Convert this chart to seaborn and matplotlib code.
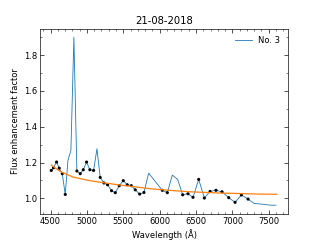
import matplotlib
matplotlib.use("Agg")
import matplotlib.pyplot as plt
from matplotlib.ticker import MultipleLocator
import seaborn as sns

# spectrum No. 3 (blue line)
wavelength = [4510, 4540, 4583, 4619, 4661, 4702, 4739, 4780, 4821, 4862,
              4908, 4950, 4995, 5041, 5092, 5138, 5183, 5234, 5284, 5339,
              5390, 5445, 5500, 5555, 5610, 5665, 5725, 5784, 5849, 6037,
              6106, 6174, 6248, 6317, 6390, 6459, 6537, 6615, 6693, 6775,
              6858, 6950, 7037, 7124, 7216, 7300, 7450, 7530, 7600]
flux = [1.156, 1.171, 1.203, 1.169, 1.138, 1.022, 1.212, 1.268, 1.900, 1.153,
        1.138, 1.160, 1.203, 1.160, 1.156, 1.277, 1.117, 1.086, 1.076, 1.043,
        1.032, 1.071, 1.099, 1.076, 1.071, 1.048, 1.024, 1.033, 1.141, 1.045,
        1.032, 1.130, 1.106, 1.020, 1.026, 1.006, 1.106, 1.002, 1.039, 1.045,
        1.037, 1.004, 0.978, 1.019, 0.996, 0.972, 0.966, 0.962, 0.962]

# points used for the fit (black dots)
dot_wl = [4510, 4540, 4583, 4619, 4661, 4702, 4862, 4908, 4950, 4995,
          5041, 5092, 5183, 5234, 5284, 5339, 5390, 5445, 5500, 5555,
          5610, 5665, 5725, 5784, 6037, 6106, 6317, 6390, 6459, 6537,
          6615, 6693, 6775, 6858, 6950, 7037, 7124, 7216]
dot_flux = [1.156, 1.171, 1.203, 1.169, 1.138, 1.022, 1.153, 1.138, 1.160, 1.203,
            1.160, 1.156, 1.117, 1.086, 1.076, 1.043, 1.032, 1.071, 1.099, 1.076,
            1.071, 1.048, 1.024, 1.033, 1.045, 1.032, 1.020, 1.026, 1.006, 1.106,
            1.002, 1.039, 1.045, 1.037, 1.004, 0.978, 1.019, 0.996]

# fitted curve (orange)
fit_wl = [4510, 4630, 4810, 5040, 5270, 5445, 5590, 5870, 6140, 6410, 6830, 7370, 7610]
fit_flux = [1.186, 1.151, 1.119, 1.099, 1.085, 1.075, 1.068, 1.054, 1.045, 1.037, 1.030, 1.024, 1.023]

plt.rcParams['xtick.direction'] = 'in'
plt.rcParams['ytick.direction'] = 'in'
plt.rcParams['xtick.top'] = True
plt.rcParams['ytick.right'] = True

fig, ax = plt.subplots(figsize=(320 / 60, 240 / 60), dpi=60)

sns.lineplot(x=wavelength, y=flux, ax=ax, color='#1f77b4', linewidth=1, label='No. 3')
sns.scatterplot(x=dot_wl, y=dot_flux, ax=ax, color='black', s=14, edgecolor='none', zorder=3)
sns.lineplot(x=fit_wl, y=fit_flux, ax=ax, color='#ff7f0e', linewidth=1.5, zorder=4)

ax.xaxis.set_major_locator(MultipleLocator(500))
ax.xaxis.set_minor_locator(MultipleLocator(100))
ax.yaxis.set_major_locator(MultipleLocator(0.2))
ax.yaxis.set_minor_locator(MultipleLocator(0.1))
ax.tick_params(which='both', direction='in', top=True, right=True)
ax.tick_params(which='major', length=4.5)
ax.tick_params(which='minor', length=2.5)

ax.set_title('21-08-2018')
ax.set_xlabel('Wavelength (Å)')
ax.set_ylabel('Flux enhancement factor')
ax.legend(loc='upper right', frameon=False)

fig.savefig('out.png', dpi=60)
